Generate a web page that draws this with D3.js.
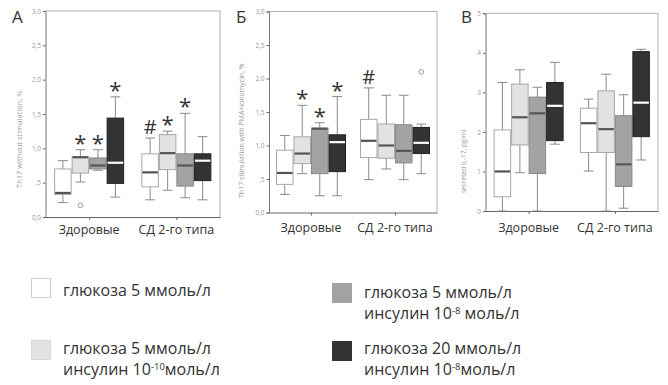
<!DOCTYPE html>
<html>
<head>
<meta charset="utf-8">
<script src="https://d3js.org/d3.v7.min.js"></script>
<style>
  body { margin: 0; background: #fff; }
  text { font-family: "Open Sans", "Noto Sans", sans-serif; }
</style>
</head>
<body>
<svg id="vis"></svg>
<script>
    const width = 668, height = 385;

    // categories
    const groups = ["Здоровые", "СД 2-го типа"];
    const conditions = ["g5", "g5i10", "g5i8", "g20i8"];

    // box stats per group: [low whisker, q1, median, q3, high whisker], one per condition
    const statsA = [
        [[0.21, 0.33, 0.35, 0.70, 0.82], [0.51, 0.64, 0.87, 0.88, 0.98], [0.68, 0.70, 0.75, 0.86, 0.98], [0.29, 0.49, 0.79, 1.44, 1.75]],
        [[0.25, 0.44, 0.65, 0.92, 1.15], [0.39, 0.69, 0.93, 1.20, 1.25], [0.28, 0.45, 0.75, 0.92, 1.51], [0.25, 0.53, 0.82, 0.92, 1.17]]
    ];
    const statsB = [
        [[0.27, 0.42, 0.59, 0.93, 1.15], [0.58, 0.73, 0.88, 1.13, 1.60], [0.25, 0.58, 1.25, 1.26, 1.34], [0.25, 0.61, 1.05, 1.16, 1.73]],
        [[0.49, 0.82, 1.07, 1.39, 1.86], [0.65, 0.81, 1.00, 1.32, 1.75], [0.49, 0.74, 0.92, 1.31, 1.75], [0.58, 0.88, 1.04, 1.27, 1.32]]
    ];
    const statsC = [
        [[0, 0.36, 1.00, 2.05, 3.25], [0.97, 1.67, 2.37, 3.21, 3.57], [0, 0.95, 2.47, 2.88, 3.13], [1.69, 1.78, 2.66, 3.25, 3.76]],
        [[1.01, 1.48, 2.22, 2.60, 2.83], [0, 1.48, 2.07, 3.04, 3.46], [0.07, 0.62, 1.18, 2.41, 2.94], [1.29, 1.88, 2.74, 4.03, 4.09]]
    ];

    // outliers: [group index, condition index, value]
    const outliersA = [[0, 1, 0.17]];
    const outliersB = [[1, 3, 2.10]];
    const outliersC = [];

    // significance marks: [group index, condition index, symbol]
    const marksA = [[0, 1, "*"], [0, 2, "*"], [0, 3, "*"], [1, 0, "#"], [1, 1, "*"], [1, 2, "*"]];
    const marksB = [[0, 1, "*"], [0, 2, "*"], [0, 3, "*"], [1, 0, "#"]];
    const marksC = [];

    const ticksA = [0, 0.5, 1, 1.5, 2, 2.5, 3];
    const tickLabelsA = ["0,0", ",5", "1,0", "1,5", "2,0", "2,5", "3,0"];
    const ticksC = [0, 1, 2, 3, 4, 5];
    const tickLabelsC = ["0", "1", "2", "3", "4", "5"];

    // legend text: lines made of [text, superscript, text]
    const legendLines = [
        [["глюкоза 5 ммоль/л", "", ""]],
        [["глюкоза 5 ммоль/л", "", ""], ["инсулин 10", "-10", "моль/л"]],
        [["глюкоза 5 ммоль/л", "", ""], ["инсулин 10", "-8", " моль/л"]],
        [["глюкоза 20 ммоль/л", "", ""], ["инсулин 10", "-8", "моль/л"]]
    ];

    const fills = ["#ffffff", "#e2e2e2", "#a3a3a3", "#333333"];
    const strokes = ["#a8a8a8", "#a8a8a8", "#888888", "#222222"];
    const medianColors = ["#555555", "#555555", "#555555", "#ffffff"];

    const svg = d3.select("#vis").attr("width", width).attr("height", height);
    svg.append("rect").attr("width", width).attr("height", height).attr("fill", "#fff");

    const panels = [
        { letter: "А", lx: 12, ylabel: "Th17 without stimulation, %", labX: 22, labY: 188, labSize: 7.5,
          x0: 45.5, x1: 220, y0: 217, y1: 11, max: 3, ticks: ticksA, tickLabels: tickLabelsA,
          stats: statsA, outliers: outliersA, marks: marksA, catY: 234 },
        { letter: "Б", lx: 236, ylabel: "Th17 stimulation with PMA+ionomycin, %", labX: 244, labY: 198, labSize: 7,
          x0: 269, x1: 437, y0: 212.5, y1: 11.5, max: 3, ticks: ticksA, tickLabels: tickLabelsA,
          stats: statsB, outliers: outliersB, marks: marksB, catY: 232 },
        { letter: "В", lx: 461, ylabel: "secreted IL-17, pg/ml", labX: 466, labY: 193, labSize: 6.5,
          x0: 485.5, x1: 658, y0: 211, y1: 13.3, max: 5, ticks: ticksC, tickLabels: tickLabelsC,
          stats: statsC, outliers: outliersC, marks: marksC, catY: 232 }
    ];

    function drawPanel(p) {
        const g = svg.append("g");
        const y = d3.scaleLinear().domain([0, p.max]).range([p.y0, p.y1]);
        const xg = d3.scalePoint().domain(groups).range([p.x0, p.x1]).padding(0.5);
        const xc = d3.scaleBand().domain(conditions).range([-35, 35]);
        const bw = xc.bandwidth();

        // frame (top and right)
        g.append("path")
            .attr("d", `M${p.x0},${y(p.max)}H${p.x1}V${p.y0}`)
            .attr("fill", "none").attr("stroke", "#b0b0b0");

        // y axis
        const yAxis = g.append("g").attr("transform", `translate(${p.x0},0)`)
            .call(d3.axisLeft(y).tickValues(p.ticks).tickSize(2.5).tickPadding(2)
                .tickFormat((d, i) => p.tickLabels[i]));
        yAxis.select(".domain").attr("stroke", "#777");
        yAxis.selectAll(".tick line").attr("stroke", "#666");
        yAxis.selectAll("text").attr("fill", "#9a9a9a").attr("font-size", 6.5);

        // x axis
        const xAxis = g.append("g").attr("transform", `translate(0,${p.y0})`)
            .call(d3.axisBottom(xg).tickSize(3).tickSizeOuter(0).tickFormat(""));
        xAxis.select(".domain").attr("stroke", "#666");
        xAxis.selectAll(".tick line").attr("stroke", "#666");

        g.selectAll(".cat").data(groups).join("text")
            .attr("x", d => xg(d)).attr("y", p.catY)
            .attr("text-anchor", "middle").attr("font-size", 12.5).attr("fill", "#333")
            .text(d => d);

        // y label
        g.append("text")
            .attr("transform", `translate(${p.labX},${p.labY})rotate(-90)`)
            .attr("font-size", p.labSize).attr("fill", "#9a9a9a")
            .text(p.ylabel);

        // panel letter
        g.append("text").attr("x", p.lx).attr("y", 23)
            .attr("font-size", 17).attr("fill", "#333").text(p.letter);

        const boxes = [];
        p.stats.forEach((grp, gi) => grp.forEach((s, ci) => boxes.push({ gi, ci, s })));
        const cx = d => xg(groups[d.gi]) + xc(conditions[d.ci]) + bw / 2;

        const bx = g.selectAll(".box").data(boxes).join("g").attr("class", "box");
        // whiskers
        bx.append("line")
            .attr("x1", cx).attr("x2", cx)
            .attr("y1", d => y(d.s[0])).attr("y2", d => y(d.s[1]))
            .attr("stroke", "#8a8a8a");
        bx.append("line")
            .attr("x1", cx).attr("x2", cx)
            .attr("y1", d => y(d.s[3])).attr("y2", d => y(d.s[4]))
            .attr("stroke", "#8a8a8a");
        bx.append("line")
            .attr("x1", d => cx(d) - bw * 0.28).attr("x2", d => cx(d) + bw * 0.28)
            .attr("y1", d => y(d.s[0])).attr("y2", d => y(d.s[0]))
            .attr("stroke", "#8a8a8a");
        bx.append("line")
            .attr("x1", d => cx(d) - bw * 0.28).attr("x2", d => cx(d) + bw * 0.28)
            .attr("y1", d => y(d.s[4])).attr("y2", d => y(d.s[4]))
            .attr("stroke", "#8a8a8a");
        // box
        bx.append("rect")
            .attr("x", d => cx(d) - bw / 2 + 0.5).attr("width", bw - 1)
            .attr("y", d => y(d.s[3])).attr("height", d => y(d.s[1]) - y(d.s[3]))
            .attr("fill", d => fills[d.ci]).attr("stroke", d => strokes[d.ci]);
        // median
        bx.append("line")
            .attr("x1", d => cx(d) - bw / 2 + 1).attr("x2", d => cx(d) + bw / 2 - 1)
            .attr("y1", d => y(d.s[2])).attr("y2", d => y(d.s[2]))
            .attr("stroke", d => medianColors[d.ci]).attr("stroke-width", 2.2);

        // outliers
        g.selectAll(".out").data(p.outliers).join("circle")
            .attr("cx", d => cx({ gi: d[0], ci: d[1] })).attr("cy", d => y(d[2]))
            .attr("r", 2.3).attr("fill", "none").attr("stroke", "#999");

        // significance marks above the high whisker
        g.selectAll(".mark").data(p.marks).join("text")
            .attr("x", d => cx({ gi: d[0], ci: d[1] }))
            .attr("y", d => y(p.stats[d[0]][d[1]][4]) - 11 + (d[2] === "*" ? 12 : 7))
            .attr("text-anchor", "middle")
            .attr("font-size", d => d[2] === "*" ? 22 : 20)
            .attr("fill", "#333")
            .text(d => d[2]);
    }

    panels.forEach(drawPanel);

    // legend: [square x, square y, first baseline]
    const legendPos = [[31, 278, 296], [31, 340, 354], [332, 283, 298], [332, 341, 354]];
    const leg = svg.append("g").selectAll("g").data(conditions).join("g")
        .attr("transform", (d, i) => `translate(${legendPos[i][0]},0)`);
    leg.append("rect")
        .attr("x", 0.5).attr("y", (d, i) => legendPos[i][1] + 0.5).attr("width", 19).attr("height", 19)
        .attr("fill", (d, i) => fills[i])
        .attr("stroke", (d, i) => i === 0 ? "#d0d0d0" : (i === 1 ? "#d8d8d8" : fills[i]));
    leg.each(function (d, i) {
        const item = d3.select(this);
        legendLines[i].forEach((line, li) => {
            const t = item.append("text")
                .attr("x", 32).attr("y", legendPos[i][2] + li * 21)
                .attr("font-family", "Roboto, sans-serif")
                .attr("font-size", 16).attr("fill", "#333");
            t.append("tspan").text(line[0]);
            if (line[1]) {
                t.append("tspan").attr("font-size", 9.5).attr("dy", -5.5).text(line[1]);
                t.append("tspan").attr("dy", 5.5).text(line[2]);
            }
        });
    });
</script>
</body>
</html>
